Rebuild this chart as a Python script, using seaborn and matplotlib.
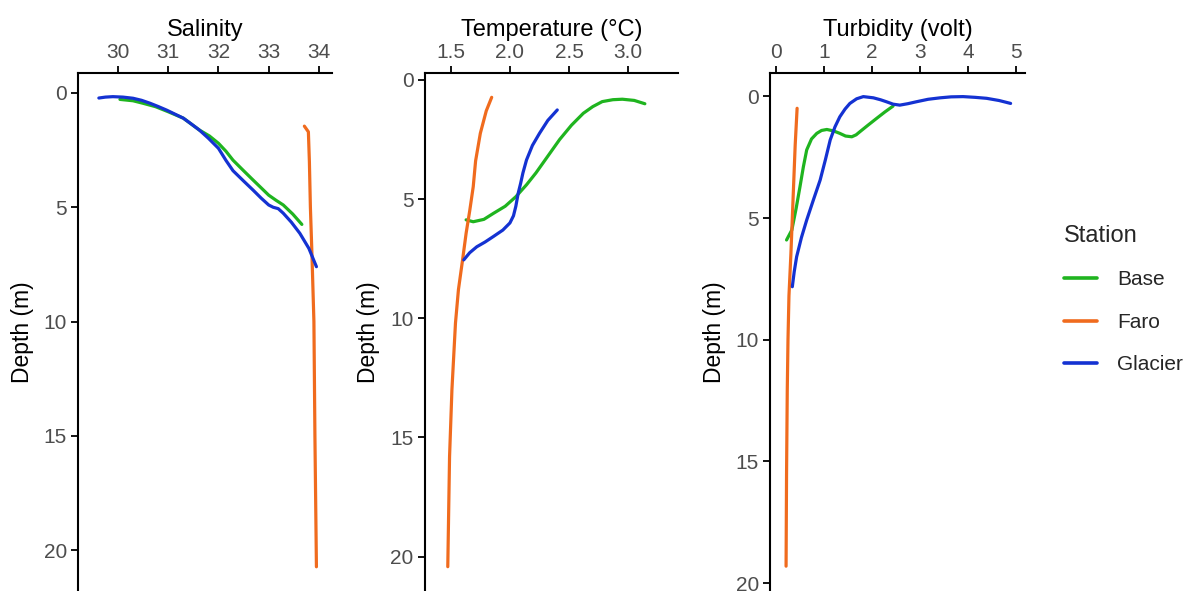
import matplotlib
matplotlib.use("Agg")
import matplotlib.pyplot as plt
import seaborn as sns
import pandas as pd

# ---------------- data (value, depth) ----------------
stations = ["Base", "Faro", "Glacier"]
colors = {"Base": "#1fb41f", "Faro": "#f06b1e", "Glacier": "#1432d2"}

sal_base_x = [30.04, 30.3, 30.5, 30.75, 31.0, 31.3, 31.62, 31.82, 32.0, 32.15,
              32.29, 32.5, 32.69, 32.85, 33.0, 33.15, 33.29, 33.48, 33.66]
sal_base_d = [0.28, 0.34, 0.45, 0.6, 0.82, 1.1, 1.62, 1.88, 2.2, 2.55,
              2.94, 3.4, 3.81, 4.15, 4.47, 4.7, 4.9, 5.3, 5.75]
sal_faro_x = [33.71, 33.79, 33.81, 33.83, 33.86, 33.9, 33.92, 33.95]
sal_faro_d = [1.45, 1.7, 3.0, 5.0, 7.0, 10.0, 15.0, 20.73]
sal_glac_x = [29.62, 29.75, 29.9, 30.1, 30.3, 30.47, 30.64, 30.8, 30.97, 31.13,
              31.3, 31.45, 31.62, 31.8, 32.0, 32.15, 32.29, 32.5, 32.69, 32.85,
              33.0, 33.09, 33.19, 33.29, 33.45, 33.62, 33.8, 33.95]
sal_glac_d = [0.22, 0.18, 0.16, 0.18, 0.23, 0.32, 0.45, 0.59, 0.75, 0.92,
              1.1, 1.34, 1.62, 1.98, 2.42, 2.95, 3.4, 3.85, 4.25, 4.6,
              4.9, 5.0, 5.06, 5.26, 5.65, 6.14, 6.8, 7.6]

tmp_base_x = [1.63, 1.69, 1.78, 1.86, 1.96, 2.05, 2.14, 2.22, 2.32, 2.42, 2.52,
              2.62, 2.70, 2.78, 2.87, 2.95, 3.05, 3.14]
tmp_base_d = [5.87, 5.95, 5.85, 5.6, 5.3, 4.9, 4.4, 3.9, 3.2, 2.5, 1.9,
              1.4, 1.12, 0.91, 0.83, 0.81, 0.86, 1.0]
tmp_faro_x = [1.846, 1.80, 1.75, 1.71, 1.69, 1.66, 1.63, 1.60, 1.565, 1.54,
              1.51, 1.49, 1.475]
tmp_faro_d = [0.73, 1.3, 2.24, 3.4, 4.48, 5.5, 6.43, 7.55, 8.8, 10.2,
              13.0, 15.8, 20.42]
tmp_glac_x = [1.61, 1.66, 1.72, 1.79, 1.86, 1.94, 2.0, 2.03, 2.05, 2.07, 2.09,
              2.11, 2.14, 2.19, 2.25, 2.32, 2.40]
tmp_glac_d = [7.55, 7.25, 7.0, 6.8, 6.57, 6.3, 6.0, 5.7, 5.3, 4.75, 4.35,
              3.9, 3.36, 2.75, 2.24, 1.7, 1.26]

tur_base_x = [0.22, 0.33, 0.42, 0.5, 0.57, 0.64, 0.74, 0.85, 0.95, 1.06, 1.2,
              1.33, 1.45, 1.58, 1.67, 1.75, 1.92, 2.1, 2.27, 2.44]
tur_base_d = [5.9, 5.49, 4.6, 3.71, 2.9, 2.2, 1.75, 1.52, 1.40, 1.36, 1.42,
              1.52, 1.63, 1.66, 1.58, 1.45, 1.18, 0.9, 0.64, 0.4]
tur_faro_x = [0.44, 0.40, 0.36, 0.31, 0.27, 0.25, 0.235, 0.22, 0.21]
tur_faro_d = [0.49, 2.0, 4.0, 6.5, 8.2, 10.0, 12.06, 15.5, 19.3]
tur_glac_x = [0.34, 0.38, 0.43, 0.53, 0.64, 0.78, 0.92, 1.03, 1.13, 1.23, 1.33,
              1.44, 1.54, 1.68, 1.82, 2.03, 2.18, 2.3, 2.44, 2.58, 2.75, 2.93,
              3.17, 3.42, 3.65, 3.9, 4.15, 4.39, 4.65, 4.89]
tur_glac_d = [7.82, 7.2, 6.59, 5.8, 5.08, 4.25, 3.44, 2.6, 1.79, 1.25, 0.84,
              0.52, 0.29, 0.1, 0.01, 0.06, 0.14, 0.22, 0.32, 0.36, 0.3, 0.22,
              0.12, 0.06, 0.02, 0.01, 0.04, 0.08, 0.17, 0.29]

panels = [
    ("Salinity", [(sal_base_x, sal_base_d), (sal_faro_x, sal_faro_d), (sal_glac_x, sal_glac_d)],
     [30, 31, 32, 33, 34], ["30", "31", "32", "33", "34"]),
    ("Temperature (°C)", [(tmp_base_x, tmp_base_d), (tmp_faro_x, tmp_faro_d), (tmp_glac_x, tmp_glac_d)],
     [1.5, 2.0, 2.5, 3.0], ["1.5", "2.0", "2.5", "3.0"]),
    ("Turbidity (volt)", [(tur_base_x, tur_base_d), (tur_faro_x, tur_faro_d), (tur_glac_x, tur_glac_d)],
     [0, 1, 2, 3, 4, 5], ["0", "1", "2", "3", "4", "5"]),
]
depth_ticks = [0, 5, 10, 15, 20]

# ---------------- layout (pixels in a 1186 x 591 figure) ----------------
W, H = 1186, 591
ax_px = [(78, 332), (424.7, 678), (770, 1025)]
top_px = 73
xlims = [(29.205, 34.26), (1.28, 3.42), (-0.125, 5.19)]
ylims = [(21.79, -0.875), (21.44, -0.29), (20.32, -0.96)]

sns.set_theme(style="white")
plt.rcParams["font.family"] = ["Liberation Sans", "DejaVu Sans"]

fig = plt.figure(figsize=(W / 100, H / 100), dpi=100)
fig.patch.set_facecolor("white")

axes = []
for i, (title, series, xt, xtl) in enumerate(panels):
    l, r = ax_px[i]
    ax = fig.add_axes([l / W, 0, (r - l) / W, (H - top_px) / H])
    rows = []
    for st, (xs, ds) in zip(stations, series):
        for k, (xv, dv) in enumerate(zip(xs, ds)):
            rows.append({"Station": st, "value": xv, "depth": dv, "order": k})
    df = pd.DataFrame(rows)
    sns.lineplot(data=df, x="value", y="depth", hue="Station", hue_order=stations,
                 palette=colors, sort=False, estimator=None, linewidth=2.3,
                 ax=ax, legend=(i == 0))
    ax.set_xlim(*xlims[i])
    ax.set_ylim(*ylims[i])
    ax.xaxis.tick_top()
    ax.xaxis.set_label_position("top")
    ax.set_xticks(xt)
    ax.set_xticklabels(xtl)
    ax.set_yticks(depth_ticks)
    ax.set_yticklabels([str(t) for t in depth_ticks])
    ax.set_xlabel(title, fontsize=17, color="black", labelpad=5)
    ax.set_ylabel("Depth (m)", fontsize=16.5, color="black", labelpad=7)
    for s in ["right", "bottom"]:
        ax.spines[s].set_visible(False)
    for s in ["left", "top"]:
        ax.spines[s].set_color("black")
        ax.spines[s].set_linewidth(1.5)
    ax.tick_params(axis="both", which="both", direction="out", length=5, width=1.3,
                   color="black", labelcolor="#4d4d4d", labelsize=15, pad=3,
                   top=True, bottom=False, left=True, right=False)
    ax.set_facecolor("white")
    ax.grid(False)
    axes.append(ax)

handles, labels = axes[0].get_legend_handles_labels()
axes[0].get_legend().remove()
leg = fig.legend(handles, labels, title="Station", loc="upper left",
                 bbox_to_anchor=(1045 / W, 1 - 206 / H), frameon=False,
                 fontsize=15, title_fontsize=17, handlelength=1.6,
                 handletextpad=0.95, labelspacing=1.13, alignment="left")
for lh in leg.get_lines():
    lh.set_linewidth(2.6)

fig.savefig("out.png", dpi=100, facecolor="white")
